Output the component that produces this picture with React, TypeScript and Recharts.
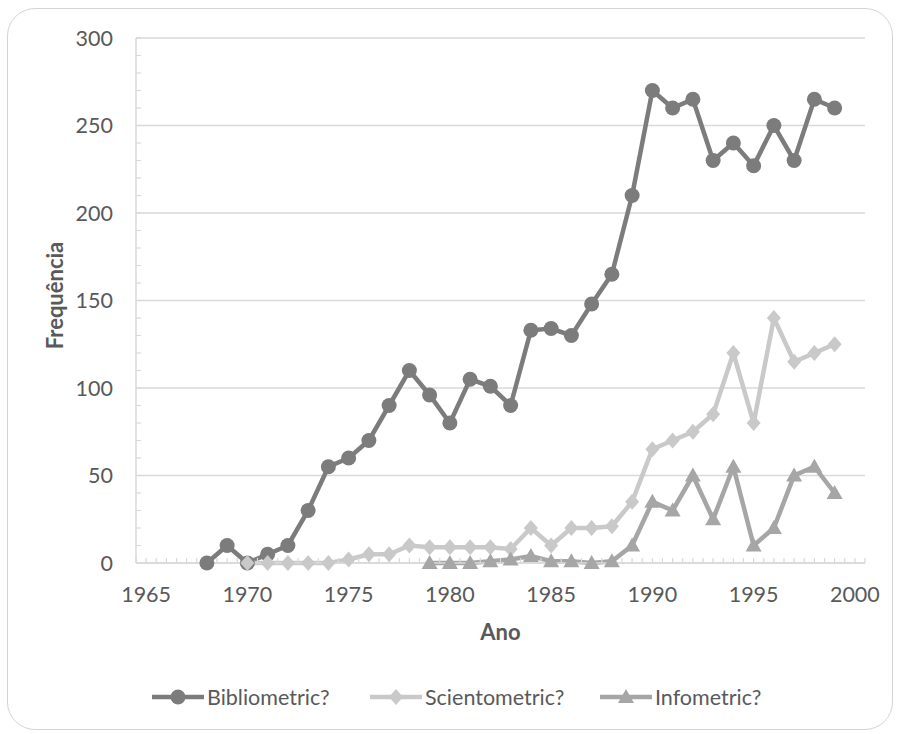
import React from "react"
import { LineChart, Line, XAxis, YAxis, CartesianGrid, Legend, Label } from "recharts"

const years = [
  1968, 1969, 1970, 1971, 1972, 1973, 1974, 1975, 1976, 1977, 1978, 1979, 1980, 1981, 1982, 1983,
  1984, 1985, 1986, 1987, 1988, 1989, 1990, 1991, 1992, 1993, 1994, 1995, 1996, 1997, 1998, 1999,
]
const bibliometric = [
  0, 10, 0, 5, 10, 30, 55, 60, 70, 90, 110, 96, 80, 105, 101, 90,
  133, 134, 130, 148, 165, 210, 270, 260, 265, 230, 240, 227, 250, 230, 265, 260,
]
const scientometric = [
  null, null, 0, 0, 0, 0, 0, 2, 5, 5, 10, 9, 9, 9, 9, 8,
  20, 10, 20, 20, 21, 35, 65, 70, 75, 85, 120, 80, 140, 115, 120, 125,
]
const infometric = [
  null, null, null, null, null, null, null, null, null, null, null, 0, 0, 0, 1, 2,
  4, 1, 1, 0, 1, 10, 35, 30, 50, 25, 55, 10, 20, 50, 55, 40,
]
const xTickLabels = [1965, 1970, 1975, 1980, 1985, 1990, 1995, 2000]
const yTickLabels = [0, 50, 100, 150, 200, 250, 300]

const series = [
  { key: "bibliometric", name: "Bibliometric?", color: "#7c7c7c", shape: "circle", legendX: 0 },
  { key: "scientometric", name: "Scientometric?", color: "#c9c9c9", shape: "diamond", legendX: 218 },
  { key: "infometric", name: "Infometric?", color: "#a6a6a6", shape: "triangle", legendX: 448 },
]

const data = years.map((year, i) => ({
  year,
  bibliometric: bibliometric[i],
  scientometric: scientometric[i],
  infometric: infometric[i],
}))

// minor ticks: every half year on x, every 10 on y
const xMinorTicks = Array.from({ length: 73 }, (_, i) => 1964.5 + i * 0.5)
const yMinorTicks = Array.from({ length: 31 }, (_, i) => i * 10)

const textColor = "#595959"
const lineColor = "#d9d9d9"

function Marker({ shape, cx, cy, color }: { shape: string; cx: number; cy: number; color: string }) {
  if (shape === "circle") return <circle cx={cx} cy={cy} r={7.5} fill={color} />
  if (shape === "diamond")
    return <polygon points={`${cx},${cy - 8} ${cx + 7},${cy} ${cx},${cy + 8} ${cx - 7},${cy}`} fill={color} />
  return <polygon points={`${cx},${cy - 8} ${cx + 8},${cy + 6} ${cx - 8},${cy + 6}`} fill={color} />
}

function makeDot(shape: string, color: string) {
  return (props: any) => {
    const { cx, cy, value, index } = props
    if (value == null || cx == null || cy == null) return <g key={`d-${index}`} />
    return (
      <g key={`d-${index}`}>
        <Marker shape={shape} cx={cx} cy={cy} color={color} />
      </g>
    )
  }
}

function LegendContent() {
  return (
    <div style={{ position: "relative", height: 30 }}>
      {series.map((s) => (
        <div
          key={s.key}
          style={{ position: "absolute", left: s.legendX, top: 0, height: 30, display: "flex", alignItems: "center" }}
        >
          <svg width={52} height={20}>
            <line x1={0} y1={10} x2={52} y2={10} stroke={s.color} strokeWidth={4.5} />
            <Marker shape={s.shape} cx={26} cy={10} color={s.color} />
          </svg>
          <span style={{ color: textColor, fontSize: 21.5, marginLeft: 3, whiteSpace: "nowrap" }}>{s.name}</span>
        </div>
      ))}
    </div>
  )
}

export default function App() {
  return (
    <div
      style={{
        position: "absolute",
        left: 0,
        top: 0,
        width: 897,
        height: 734,
        background: "#fff",
        fontFamily: "Lato, sans-serif",
      }}
    >
      <div
        style={{
          position: "absolute",
          left: 7,
          top: 8,
          width: 884,
          height: 720,
          border: "1.5px solid #d4d4d4",
          borderRadius: 28,
        }}
      />
      <LineChart
        width={897}
        height={734}
        data={data}
        margin={{ top: 38, right: 32, left: 0, bottom: 71 }}
      >
        <CartesianGrid
          vertical={false}
          horizontalValues={yTickLabels}
          stroke={lineColor}
          strokeWidth={1.5}
        />
        <XAxis
          type="number"
          dataKey="year"
          domain={[1964.5, 2000.5]}
          ticks={xMinorTicks}
          interval={0}
          height={100}
          tickFormatter={(v: number) => (xTickLabels.includes(v) ? String(v) : "")}
          tickSize={-5}
          tickMargin={29}
          tick={{ fill: textColor, fontSize: 21.5 }}
          axisLine={{ stroke: lineColor, strokeWidth: 1.5 }}
          tickLine={{ stroke: lineColor, strokeWidth: 1.2 }}
          allowDataOverflow
        >
          <Label
            value="Ano"
            position="insideTop"
            offset={61}
            style={{ fill: textColor, fontSize: 22, fontWeight: 700 }}
          />
        </XAxis>
        <YAxis
          type="number"
          domain={[0, 300]}
          ticks={yMinorTicks}
          interval={0}
          width={136}
          tickFormatter={(v: number) => (yTickLabels.includes(v) ? String(v) : "")}
          tickSize={-5}
          tickMargin={28}
          tick={{ fill: textColor, fontSize: 21.5 }}
          axisLine={{ stroke: lineColor, strokeWidth: 1.5 }}
          tickLine={{ stroke: lineColor, strokeWidth: 1.2 }}
        >
          <Label
            value="Frequência"
            angle={-90}
            position="insideLeft"
            offset={55}
            dy={-5}
            style={{ fill: textColor, fontSize: 22, fontWeight: 700, textAnchor: "middle" }}
          />
        </YAxis>
        {series.map((s) => (
          <Line
            key={s.key}
            type="linear"
            dataKey={s.key}
            name={s.name}
            stroke={s.color}
            strokeWidth={4.5}
            dot={makeDot(s.shape, s.color)}
            activeDot={false}
            isAnimationActive={false}
          />
        ))}
        <Legend
          verticalAlign="middle"
          align="center"
          content={<LegendContent />}
          wrapperStyle={{ left: 152, top: 682, width: 700, height: 30 }}
        />
      </LineChart>
    </div>
  )
}
